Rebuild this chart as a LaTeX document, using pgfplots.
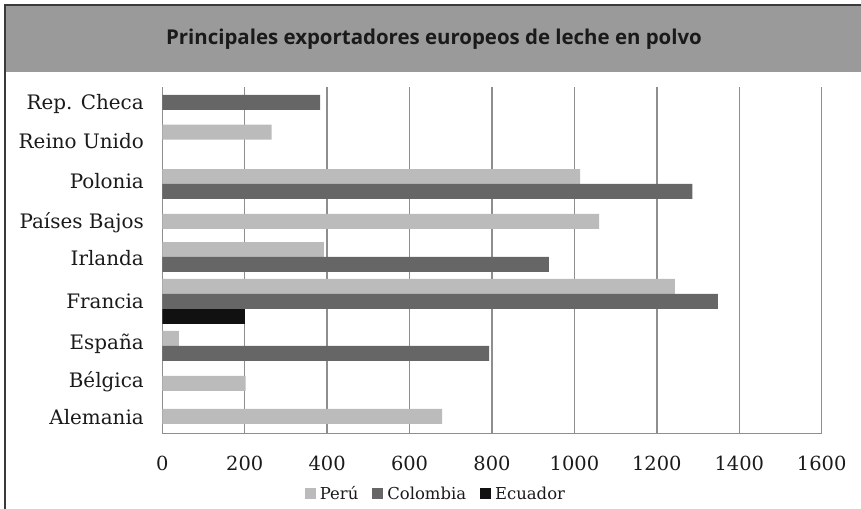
\documentclass[border=0pt]{standalone}
\usepackage{fontspec}
\usepackage{pgfplots}
\pgfplotsset{compat=1.18}
\newfontfamily\serif{DejaVu Serif}
\newfontfamily\titlefont{Open Sans}
\definecolor{peru}{HTML}{BBBBBB}
\definecolor{colombia}{HTML}{666666}
\definecolor{ecuador}{HTML}{111111}
\definecolor{titlebar}{HTML}{9A9A9A}
\definecolor{frame}{HTML}{3A3A3A}
\definecolor{gridgray}{HTML}{8E8E8E}
\definecolor{txt}{HTML}{1A1A1A}

\begin{document}
\begin{tikzpicture}
\useasboundingbox (0,0) rectangle (861bp,509bp);
% title band and frame
\fill[titlebar] (5bp,437.3bp) rectangle (861bp,504bp);
\draw[frame, line width=2bp] (5bp,0bp) -- (5bp,504bp) -- (861bp,504bp);
\node[anchor=base, text=txt, inner sep=0pt] at (434bp,464bp)
  {\titlefont\bfseries\fontsize{20.5}{24}\selectfont Principales exportadores europeos de leche en polvo};

% y is measured upward from the bottom of the plot box
\begin{axis}[
    at={(162.3bp,75.3bp)}, anchor=south west,
    scale only axis, width=659.4bp, height=346.4bp,
    xmin=0, xmax=1600, ymin=0, ymax=346.4,
    axis x line*=bottom, axis y line*=left,
    axis line style={gridgray, line width=1.5bp},
    xmajorgrids, grid style={gridgray, line width=1.5bp},
    major tick length=0pt,
    xtick={0,200,400,600,800,1000,1200,1400,1600},
    xticklabels={0,200,400,600,800,1000,1200,1400,1600},
    xticklabel style={anchor=base, inner sep=0pt, yshift=-36.3bp,
        font=\serif\fontsize{19.5}{23}\selectfont, text=txt},
    ytick={324.4,285.4,244.7,205.4,168,125.4,83.7,46.4,9.7},
    yticklabels={Rep. Checa,Reino Unido,Polonia,Países Bajos,Irlanda,Francia,España,Bélgica,Alemania},
    yticklabel style={anchor=base east, inner sep=0pt, xshift=-18.3bp,
        font=\serif\fontsize{20}{24}\selectfont, text=txt},
    xbar, bar width=15, bar shift=0pt,
    legend style={at={(axis description cs:0.415,-0.174)}, anchor=center,
        draw=none, fill=none, legend columns=-1,
        font=\serif\fontsize{16.5}{19}\selectfont, text=txt,
        /tikz/every odd column/.append style={column sep=2bp},
        /tikz/every even column/.append style={column sep=12bp}},
    legend image code/.code={\path[#1] (0bp,-5.5bp) rectangle (11bp,5.5bp);},
]
\addplot[draw=none, fill=peru] coordinates {
    (265,301.5) (1014,257.0) (1060,212.4) (392,184.0)
    (1244,147.2) (40,95.2) (202,50.4) (679,17.2)
};
\addlegendentry{Perú}
\addplot[draw=none, fill=colombia] coordinates {
    (383,331.2) (1286,242.4) (938,169.4) (1348,132.2) (793,80.2)
};
\addlegendentry{Colombia}
\addplot[draw=none, fill=ecuador] coordinates {
    (201,117.2)
};
\addlegendentry{Ecuador}
\end{axis}
\end{tikzpicture}
\end{document}
